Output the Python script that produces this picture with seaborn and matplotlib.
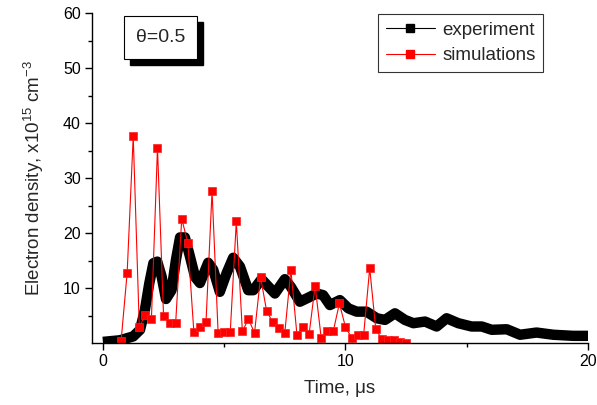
import numpy as np
import pandas as pd
import matplotlib
matplotlib.use("Agg")
import matplotlib.pyplot as plt
from matplotlib.lines import Line2D
from matplotlib.patches import Rectangle
import seaborn as sns

# experiment
exp_t = [0.0, 0.7, 1.25, 1.53, 1.73, 1.91, 2.08, 2.24, 2.42, 2.6, 2.83, 3.01, 3.18,
         3.38, 3.59, 3.8, 4.0, 4.34, 4.55, 4.82, 5.1, 5.37, 5.65, 5.99, 6.2, 6.54,
         7.09, 7.5, 7.75, 8.12, 8.54, 8.81, 9.08, 9.36, 9.77, 10.12, 10.46, 10.87,
         11.29, 11.63, 12.04, 12.45, 12.8, 13.28, 13.76, 14.17, 14.65, 15.2, 15.62,
         16.03, 16.65, 17.2, 17.88, 18.57, 19.39, 20.0]
exp_n = [0.2, 0.5, 1.2, 2.4, 6.0, 10.8, 14.5, 14.8, 12.1, 8.0, 9.6, 15.1, 19.2,
         19.2, 15.7, 12.0, 10.9, 14.6, 13.3, 9.3, 12.7, 15.5, 13.9, 9.6, 9.6, 11.6,
         9.0, 11.6, 10.2, 7.5, 8.4, 9.0, 8.7, 6.9, 7.8, 6.3, 5.7, 5.7,
         4.5, 4.2, 5.4, 4.2, 3.6, 3.9, 3.0, 4.5, 3.6, 3.0, 3.0,
         2.4, 2.5, 1.5, 1.9, 1.5, 1.3, 1.3]

# simulations (red squares)
sim_t = [0.75, 1.0, 1.25, 1.5, 1.75, 2.0, 2.25, 2.5, 2.75, 3.0, 3.25, 3.5, 3.75,
         4.0, 4.25, 4.5, 4.75, 5.0, 5.25, 5.5, 5.75, 6.0, 6.25, 6.5, 6.75, 7.0,
         7.25, 7.5, 7.75, 8.0, 8.25, 8.5, 8.75, 9.0, 9.25, 9.5, 9.75, 10.0, 10.25,
         10.5, 10.75, 11.0, 11.25, 11.5, 11.75, 12.0, 12.25, 12.5]
sim_n = [0.4, 12.8, 37.6, 2.9, 5.1, 4.4, 35.5, 4.9, 3.7, 3.7, 22.6, 18.2, 2.0,
         2.9, 3.8, 27.6, 1.8, 2.0, 2.0, 22.1, 2.1, 4.4, 1.8, 12.0, 5.8, 3.8,
         2.7, 1.9, 13.3, 1.5, 3.0, 1.6, 10.4, 0.9, 2.1, 2.2, 7.2, 2.9, 1.0,
         1.5, 1.5, 13.6, 2.5, 0.7, 0.6, 0.5, 0.2, 0.05]

sns.set_style("ticks")
plt.rcParams["font.family"] = ["Liberation Sans", "DejaVu Sans"]
plt.rcParams["mathtext.fontset"] = "custom"
plt.rcParams["mathtext.rm"] = "Liberation Sans"

W, H = 597, 405
fig = plt.figure(figsize=(W / 100, H / 100), dpi=100)
ax = fig.add_axes([92 / W, 1 - 343 / H, (588 - 92) / W, (343 - 13) / H])

exp_df = pd.DataFrame({"t": exp_t, "n": exp_n})
sim_df = pd.DataFrame({"t": sim_t, "n": sim_n})

# dense square markers in the original merge into a thick band
sns.lineplot(data=exp_df, x="t", y="n", ax=ax, color="black", linewidth=7.5,
             solid_joinstyle="round", solid_capstyle="butt", legend=False)
sns.lineplot(data=sim_df, x="t", y="n", ax=ax, color="#ff0000", linewidth=0.8,
             marker="s", markersize=6, markeredgecolor="#ff2020",
             markeredgewidth=0.5, legend=False)

ax.set_xlim(-0.45, 20)
ax.set_ylim(0, 60)
ax.set_xticks([0, 10, 20])
ax.set_xticks([5, 15], minor=True)
ax.set_yticks([10, 20, 30, 40, 50, 60])
ax.set_yticks([5, 15, 25, 35, 45, 55], minor=True)
ax.tick_params(which="major", length=5, width=1, labelsize=11.5, color="black",
               labelcolor="black", pad=3)
ax.tick_params(which="minor", length=3, width=1, color="black")
for s in ["left", "bottom"]:
    ax.spines[s].set_color("black")
    ax.spines[s].set_linewidth(1)
sns.despine(ax=ax)

ax.set_xlabel("Time, μs", fontsize=13.5, labelpad=8)
ax.set_ylabel("Electron density, x10$^{15}$ cm$^{-3}$", fontsize=13.5, labelpad=12)

handles = [
    Line2D([], [], color="black", linewidth=0.8, marker="s", markersize=6),
    Line2D([], [], color="#ff0000", linewidth=0.8, marker="s", markersize=6),
]
leg = fig.legend(handles, ["experiment", "simulations"], loc="upper right",
                 bbox_to_anchor=(543 / W, 1 - 14 / H), borderaxespad=0,
                 frameon=True, fancybox=False, fontsize=13.5, handlelength=2.6,
                 handletextpad=0.4, borderpad=0.4, labelspacing=0.45)
leg.get_frame().set_edgecolor("black")
leg.get_frame().set_linewidth(0.8)

# theta box with shadow
fig.patches.append(Rectangle((130 / W, 1 - 65 / H), 73 / W, 43 / H,
                             transform=fig.transFigure, facecolor="black",
                             edgecolor="black", zorder=5))
fig.patches.append(Rectangle((124 / W, 1 - 59 / H), 73 / W, 43 / H,
                             transform=fig.transFigure, facecolor="white",
                             edgecolor="black", linewidth=0.8, zorder=6))
fig.text(160.5 / W, 1 - 38 / H, "θ=0.5", fontsize=14, ha="center", va="center",
         zorder=7)

fig.savefig("out.png", dpi=100)
